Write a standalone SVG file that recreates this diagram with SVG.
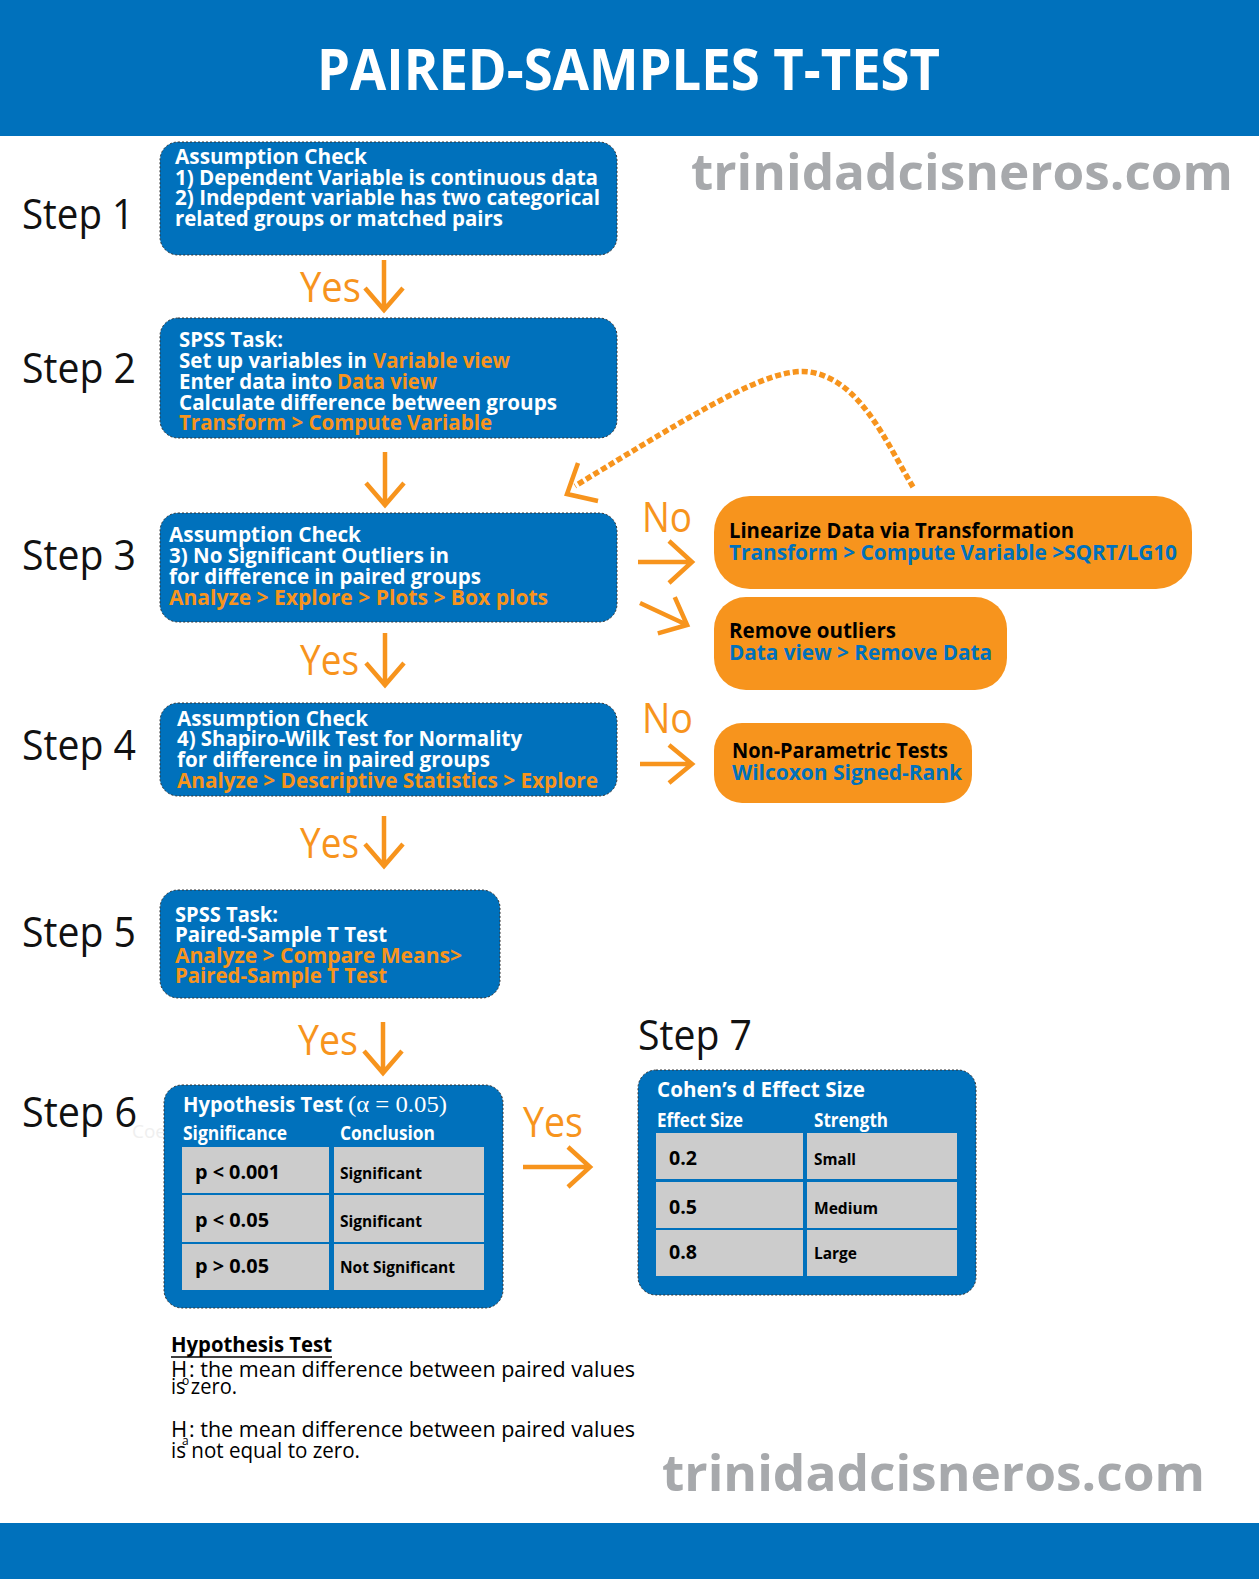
<svg xmlns="http://www.w3.org/2000/svg" width="1259" height="1579" viewBox="0 0 1259 1579">
<defs>
<style>
.f{font-family:"Open Sans","Noto Sans","DejaVu Sans",sans-serif}
.b{font-weight:700}
.w{fill:#ffffff}
.o{fill:#F7941D}
.k{fill:#000000}
.bl{fill:#0071BC}
.box{fill:#0071BC;stroke:#333333;stroke-width:1;stroke-dasharray:2 2}
.obox{fill:#F7941D}
.cell{fill:#CCCCCC}
.arr{fill:none;stroke:#F7941D;stroke-width:4.5;stroke-linejoin:miter;stroke-linecap:butt}
.bt{font-size:22px}
.step{font-size:42px;fill:#111111}
.yes{font-size:42px;fill:#F7941D}
.wm{font-size:50px;font-weight:700;fill:#A7A9AC}
.hd{font-size:19px}
.cv{font-size:20px;font-weight:700;fill:#000}
.cs{font-size:16px;font-weight:700;fill:#000}
.ht{font-size:22px;fill:#000}
</style>
</defs>

<g id="header">
<rect x="0" y="0" width="1259" height="136" fill="#0071BC"/>
<text class="f b w" x="317" y="90" font-size="57" textLength="623" lengthAdjust="spacingAndGlyphs">PAIRED-SAMPLES T-TEST</text>
</g>
<rect id="footer" x="0" y="1523" width="1259" height="56" fill="#0071BC"/>

<g id="watermarks">
<text class="f wm" x="691" y="190" textLength="542" lengthAdjust="spacingAndGlyphs">trinidadcisneros.com</text>
<text class="f wm" x="662" y="1491" textLength="543" lengthAdjust="spacingAndGlyphs">trinidadcisneros.com</text>
<text class="f" x="132" y="1138" font-size="19" fill="#EFEFEF" textLength="34" lengthAdjust="spacingAndGlyphs">Coe</text>
</g>

<g id="step-labels">
<text class="f step" x="22" y="229" textLength="112" lengthAdjust="spacingAndGlyphs">Step 1</text>
<text class="f step" x="22" y="383" textLength="114" lengthAdjust="spacingAndGlyphs">Step 2</text>
<text class="f step" x="22" y="570" textLength="114" lengthAdjust="spacingAndGlyphs">Step 3</text>
<text class="f step" x="22" y="760" textLength="114" lengthAdjust="spacingAndGlyphs">Step 4</text>
<text class="f step" x="22" y="947" textLength="114" lengthAdjust="spacingAndGlyphs">Step 5</text>
<text class="f step" x="22" y="1127" textLength="115" lengthAdjust="spacingAndGlyphs">Step 6</text>
<text class="f step" x="638" y="1050" textLength="114" lengthAdjust="spacingAndGlyphs">Step 7</text>
</g>

<g id="connectors">
<path class="arr" d="M384,260 L384,310 M365,288 L384,310 L403,288"/>
<path class="arr" d="M385,452 L385,505 M366,483 L385,505 L404,483"/>
<path class="arr" d="M385,633 L385,685 M366,663 L385,685 L404,663"/>
<path class="arr" d="M384,816 L384,866 M365,844 L384,866 L403,844"/>
<path class="arr" d="M383,1022 L383,1073 M364,1051 L383,1073 L402,1051"/>
<path class="arr" d="M638,562 L692,562 M669,541 L692,562 L669,583"/>
<path class="arr" transform="translate(640,603) rotate(25)" d="M0,0 L52,0 M29,-20 L52,0 L29,20"/>
<path class="arr" d="M640,764 L692,764 M669,745 L692,764 L669,783"/>
<path class="arr" d="M523,1167 L590,1167 M568,1147 L590,1167 L568,1187"/>
<path fill="none" stroke="#F7941D" stroke-width="5.5" stroke-dasharray="6 3" d="M913,487 C885,440 860,380 810,372 C770,366 700,410 575,486"/>
<path class="arr" stroke-width="5" d="M578,463 L567,494 L598,501"/>
<text class="f yes" x="300" y="302" textLength="61" lengthAdjust="spacingAndGlyphs">Yes</text>
<text class="f yes" x="300" y="675" textLength="59" lengthAdjust="spacingAndGlyphs">Yes</text>
<text class="f yes" x="300" y="858" textLength="59" lengthAdjust="spacingAndGlyphs">Yes</text>
<text class="f yes" x="298" y="1055" textLength="60" lengthAdjust="spacingAndGlyphs">Yes</text>
<text class="f yes" x="523" y="1137" textLength="60" lengthAdjust="spacingAndGlyphs">Yes</text>
<text class="f yes" x="642" y="532" textLength="50" lengthAdjust="spacingAndGlyphs">No</text>
<text class="f yes" x="642" y="733" textLength="51" lengthAdjust="spacingAndGlyphs">No</text>
</g>

<g id="step1">
<rect class="box" x="160" y="142" width="457" height="113" rx="18"/>
<text class="f b bt w" x="175" y="164" textLength="192" lengthAdjust="spacingAndGlyphs">Assumption Check</text>
<text class="f b bt w" x="175" y="184.5" textLength="423" lengthAdjust="spacingAndGlyphs">1) Dependent Variable is continuous data</text>
<text class="f b bt w" x="175" y="205" textLength="425" lengthAdjust="spacingAndGlyphs">2) Indepdent variable has two categorical</text>
<text class="f b bt w" x="175" y="225.5" textLength="328" lengthAdjust="spacingAndGlyphs">related groups or matched pairs</text>
</g>

<g id="step2">
<rect class="box" x="160" y="318" width="457" height="120" rx="18"/>
<text class="f b bt w" x="179" y="347" textLength="104" lengthAdjust="spacingAndGlyphs">SPSS Task:</text>
<text class="f b bt w" x="179" y="368" textLength="188" lengthAdjust="spacingAndGlyphs">Set up variables in</text>
<text class="f b bt o" x="373" y="368" textLength="137" lengthAdjust="spacingAndGlyphs">Variable view</text>
<text class="f b bt w" x="179" y="389" textLength="153" lengthAdjust="spacingAndGlyphs">Enter data into</text>
<text class="f b bt o" x="337" y="389" textLength="100" lengthAdjust="spacingAndGlyphs">Data view</text>
<text class="f b bt w" x="179" y="410" textLength="378" lengthAdjust="spacingAndGlyphs">Calculate difference between groups</text>
<text class="f b bt o" x="179" y="430" textLength="313" lengthAdjust="spacingAndGlyphs">Transform &gt; Compute Variable</text>
</g>

<g id="step3">
<rect class="box" x="160" y="513" width="457" height="109" rx="18"/>
<text class="f b bt w" x="169" y="542" textLength="192" lengthAdjust="spacingAndGlyphs">Assumption Check</text>
<text class="f b bt w" x="169" y="563" textLength="280" lengthAdjust="spacingAndGlyphs">3) No Significant Outliers in</text>
<text class="f b bt w" x="169" y="584" textLength="312" lengthAdjust="spacingAndGlyphs">for difference in paired groups</text>
<text class="f b bt o" x="169" y="605" textLength="379" lengthAdjust="spacingAndGlyphs">Analyze &gt; Explore &gt; Plots &gt; Box plots</text>
</g>

<g id="step4">
<rect class="box" x="160" y="703" width="457" height="93" rx="18"/>
<text class="f b bt w" x="177" y="725.5" textLength="191" lengthAdjust="spacingAndGlyphs">Assumption Check</text>
<text class="f b bt w" x="177" y="746" textLength="345" lengthAdjust="spacingAndGlyphs">4) Shapiro-Wilk Test for Normality</text>
<text class="f b bt w" x="177" y="767" textLength="313" lengthAdjust="spacingAndGlyphs">for difference in paired groups</text>
<text class="f b bt o" x="177" y="788" textLength="421" lengthAdjust="spacingAndGlyphs">Analyze &gt; Descriptive Statistics &gt; Explore</text>
</g>

<g id="step5">
<rect class="box" x="160" y="890" width="340" height="108" rx="18"/>
<text class="f b bt w" x="175" y="921.5" textLength="103" lengthAdjust="spacingAndGlyphs">SPSS Task:</text>
<text class="f b bt w" x="175" y="942" textLength="212" lengthAdjust="spacingAndGlyphs">Paired-Sample T Test</text>
<text class="f b bt o" x="175" y="963" textLength="287" lengthAdjust="spacingAndGlyphs">Analyze &gt; Compare Means&gt;</text>
<text class="f b bt o" x="175" y="983" textLength="212" lengthAdjust="spacingAndGlyphs">Paired-Sample T Test</text>
</g>

<g id="step6">
<rect class="box" x="164" y="1085" width="339" height="223" rx="18"/>
<text class="f b bt w" x="183" y="1112" textLength="160" lengthAdjust="spacingAndGlyphs">Hypothesis Test</text>
<text x="348" y="1112" font-family="'Liberation Serif','DejaVu Serif',serif" font-size="24" fill="#ffffff" textLength="99" lengthAdjust="spacingAndGlyphs">(α = 0.05)</text>
<text class="f b hd w" x="183" y="1140" textLength="104" lengthAdjust="spacingAndGlyphs">Significance</text>
<text class="f b hd w" x="340" y="1140" textLength="95" lengthAdjust="spacingAndGlyphs">Conclusion</text>
<rect class="cell" x="182" y="1147" width="147" height="46"/>
<rect class="cell" x="334" y="1147" width="150" height="46"/>
<rect class="cell" x="182" y="1195" width="147" height="47"/>
<rect class="cell" x="334" y="1195" width="150" height="47"/>
<rect class="cell" x="182" y="1244" width="147" height="46"/>
<rect class="cell" x="334" y="1244" width="150" height="46"/>
<text class="f cv" x="195" y="1179" textLength="85" lengthAdjust="spacingAndGlyphs">p &lt; 0.001</text>
<text class="f cs" x="340" y="1179" textLength="82" lengthAdjust="spacingAndGlyphs">Significant</text>
<text class="f cv" x="195" y="1227" textLength="74" lengthAdjust="spacingAndGlyphs">p &lt; 0.05</text>
<text class="f cs" x="340" y="1227" textLength="82" lengthAdjust="spacingAndGlyphs">Significant</text>
<text class="f cv" x="195" y="1273" textLength="74" lengthAdjust="spacingAndGlyphs">p &gt; 0.05</text>
<text class="f cs" x="340" y="1273" textLength="115" lengthAdjust="spacingAndGlyphs">Not Significant</text>
</g>

<g id="step7">
<rect class="box" x="638" y="1070" width="338" height="225" rx="18"/>
<text class="f b bt w" x="657" y="1097" textLength="208" lengthAdjust="spacingAndGlyphs">Cohen’s d Effect Size</text>
<text class="f b hd w" x="657" y="1127" textLength="86" lengthAdjust="spacingAndGlyphs">Effect Size</text>
<text class="f b hd w" x="814" y="1127" textLength="74" lengthAdjust="spacingAndGlyphs">Strength</text>
<rect class="cell" x="656" y="1133" width="147" height="46"/>
<rect class="cell" x="807" y="1133" width="150" height="46"/>
<rect class="cell" x="656" y="1182" width="147" height="46"/>
<rect class="cell" x="807" y="1182" width="150" height="46"/>
<rect class="cell" x="656" y="1230" width="147" height="46"/>
<rect class="cell" x="807" y="1230" width="150" height="46"/>
<text class="f cv" x="669" y="1165" textLength="28" lengthAdjust="spacingAndGlyphs">0.2</text>
<text class="f cs" x="814" y="1165" textLength="42" lengthAdjust="spacingAndGlyphs">Small</text>
<text class="f cv" x="669" y="1214" textLength="28" lengthAdjust="spacingAndGlyphs">0.5</text>
<text class="f cs" x="814" y="1214" textLength="64" lengthAdjust="spacingAndGlyphs">Medium</text>
<text class="f cv" x="669" y="1259" textLength="28" lengthAdjust="spacingAndGlyphs">0.8</text>
<text class="f cs" x="814" y="1259" textLength="43" lengthAdjust="spacingAndGlyphs">Large</text>
</g>

<g id="linearize">
<rect class="obox" x="714" y="496" width="478" height="93" rx="36"/>
<text class="f b bt k" x="729" y="538" textLength="345" lengthAdjust="spacingAndGlyphs">Linearize Data via Transformation</text>
<text class="f b bt bl" x="729" y="560" textLength="448" lengthAdjust="spacingAndGlyphs">Transform &gt; Compute Variable &gt;SQRT/LG10</text>
</g>

<g id="remove-outliers">
<rect class="obox" x="714" y="597" width="293" height="93" rx="32"/>
<text class="f b bt k" x="729" y="638" textLength="167" lengthAdjust="spacingAndGlyphs">Remove outliers</text>
<text class="f b bt bl" x="729" y="660" textLength="263" lengthAdjust="spacingAndGlyphs">Data view &gt; Remove Data</text>
</g>

<g id="non-parametric">
<rect class="obox" x="714" y="723" width="258" height="80" rx="28"/>
<text class="f b bt k" x="732" y="758" textLength="216" lengthAdjust="spacingAndGlyphs">Non-Parametric Tests</text>
<text class="f b bt bl" x="732" y="780" textLength="230" lengthAdjust="spacingAndGlyphs">Wilcoxon Signed-Rank</text>
</g>

<g id="hypothesis-notes">
<text class="f b ht" x="171" y="1352" textLength="161" lengthAdjust="spacingAndGlyphs">Hypothesis Test</text>
<line x1="171" y1="1357" x2="332" y2="1357" stroke="#000" stroke-width="1.6"/>
<text class="f ht" x="171" y="1377">H</text>
<text class="f" x="182" y="1385" font-size="12">o</text>
<text class="f ht" x="189" y="1377" textLength="446" lengthAdjust="spacingAndGlyphs">: the mean difference between paired values</text>
<text class="f ht" x="171" y="1394" textLength="66" lengthAdjust="spacingAndGlyphs">is zero.</text>
<text class="f ht" x="171" y="1437">H</text>
<text class="f" x="182" y="1445" font-size="12">a</text>
<text class="f ht" x="189" y="1437" textLength="446" lengthAdjust="spacingAndGlyphs">: the mean difference between paired values</text>
<text class="f ht" x="171" y="1458" textLength="189" lengthAdjust="spacingAndGlyphs">is not equal to zero.</text>
</g>
</svg>
